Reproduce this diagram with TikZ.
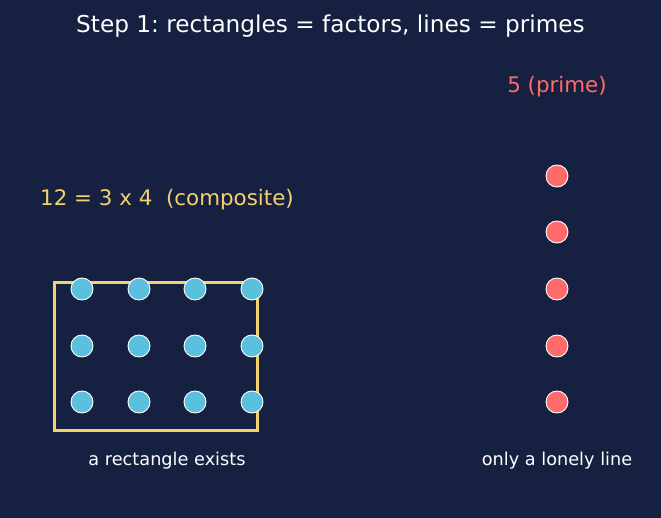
\documentclass[tikz,border=0pt]{standalone}
\usepackage{fontspec}
\setmainfont{DejaVu Sans}
\frenchspacing
\definecolor{night}{HTML}{162041}
\definecolor{sky}{HTML}{5BC0DE}
\definecolor{coral}{HTML}{FF6B6B}
\definecolor{sand}{HTML}{F4D06F}

\begin{document}
\begin{tikzpicture}[x=1pt,y=-1pt,every node/.style={text=white,align=center,inner sep=0pt},
 dot/.style={circle,minimum size=22pt,draw=white,line width=.9pt},
 sdot/.style={dot,fill=sky},
 pdot/.style={dot,fill=coral},
 lbl/.style={font=\fontsize{17.7}{21}\selectfont}]
\fill[night] (0,0) rectangle (661,518);
\node[font=\fontsize{23.2}{28}\selectfont] (title) at (330.5,26) {Step 1: rectangles = factors, lines = primes};
% composite side
\node[anchor=west,text=sand,font=\fontsize{21.4}{26}\selectfont] (comp) at (40,200) {12 = 3 x 4\ \ (composite)};
\draw[sand,line width=3pt] (54,283) rectangle (257,430);
\foreach \c/\x in {1/82,2/139,3/195,4/252}
 \foreach \r/\y in {1/289,2/346,3/402}
  \node[sdot] (s\r\c) at (\x,\y) {};
\node[lbl] (rect) at (167,461) {a rectangle exists};
% prime side
\node[text=coral,font=\fontsize{21.4}{26}\selectfont] (prime) at (557,87) {5 (prime)};
\foreach \r/\y in {1/176,2/232,3/289,4/346,5/402}
 \node[pdot] (p\r) at (557,\y) {};
\node[lbl] (line) at (557,461) {only a lonely line};
\end{tikzpicture}
\end{document}
